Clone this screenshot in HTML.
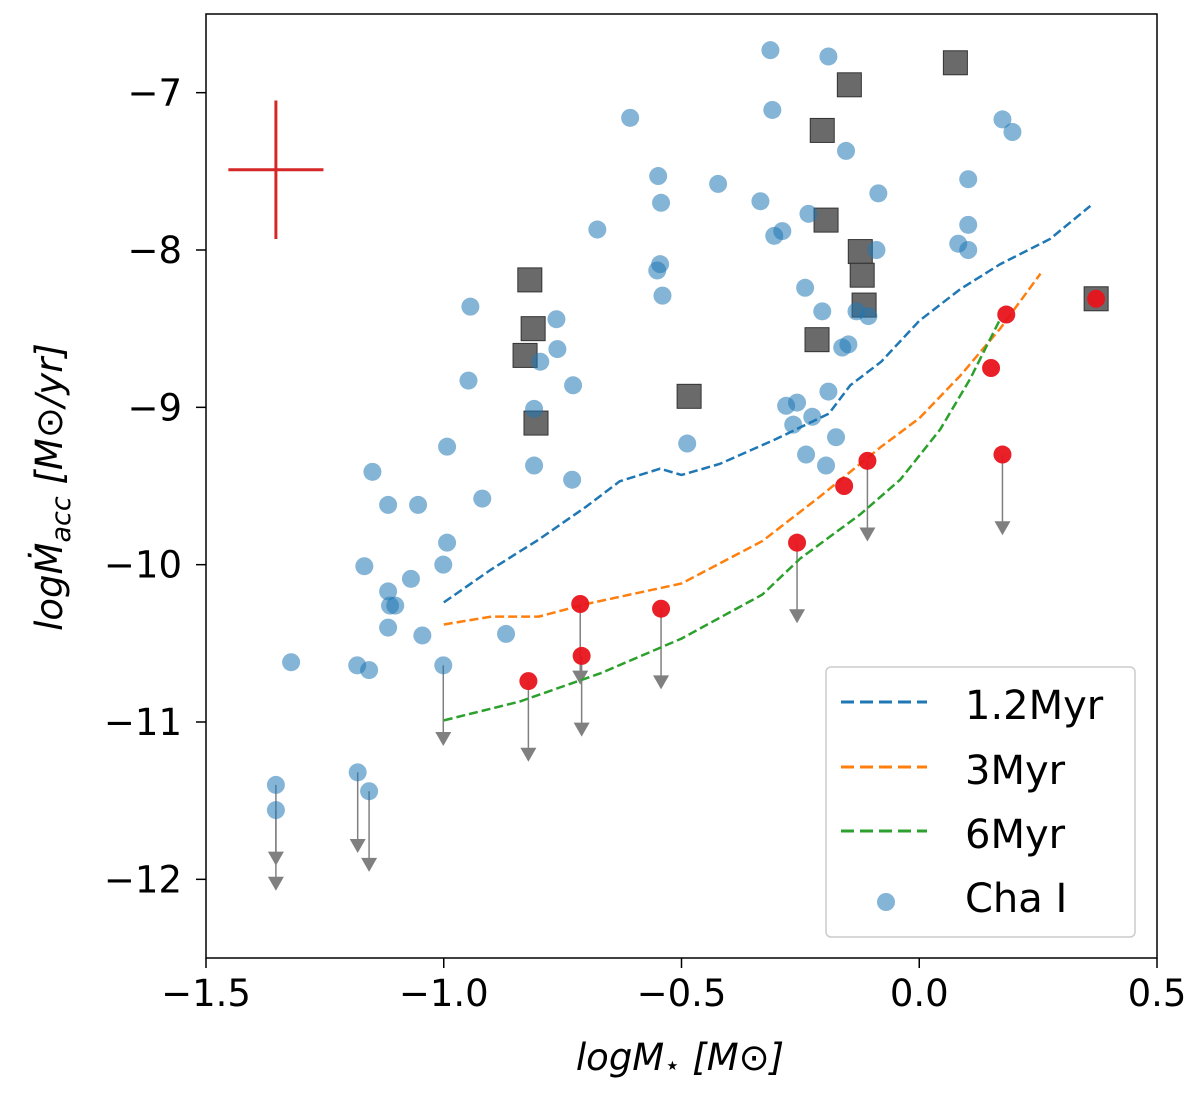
<!DOCTYPE html>
<html><head><meta charset="utf-8"><style>
body{margin:0;background:#fff}
svg{display:block;font-family:"DejaVu Sans","Liberation Sans",sans-serif}
</style></head><body>
<svg id="chart" width="1200" height="1103" viewBox="0 0 1200 1103" xmlns="http://www.w3.org/2000/svg">
<g id="layer"></g>
</svg>
<script>
const xTicks=[-1.5,-1.0,-0.5,0.0,0.5];
const xTickLabels=["\u22121.5","\u22121.0","\u22120.5","0.0","0.5"];
const yTicks=[-7,-8,-9,-10,-11,-12];
const yTickLabels=["\u22127","\u22128","\u22129","\u221210","\u221211","\u221212"];
const blueX=[-0.313,-0.191,-0.309,-0.608,0.175,0.196,-0.154,-0.423,-0.549,-0.543,-0.334,0.103,-0.086,-0.233,-0.305,-0.288,-0.677,-0.545,-0.551,-0.540,0.082,0.103,0.103,-0.090,-0.944,-0.240,-0.204,-0.132,-0.107,-0.149,-0.162,-0.191,-0.280,-0.257,-0.265,-0.238,-0.225,-0.196,-0.175,-0.763,-0.761,-0.797,-0.948,-0.810,-0.728,-0.730,-0.488,-0.810,-0.993,-0.919,-1.054,-1.150,-1.117,-0.993,-1.001,-1.069,-1.167,-1.117,-1.113,-1.102,-1.117,-1.045,-0.869,-1.321,-1.182,-1.157];
const blueY=[-6.73,-6.77,-7.11,-7.16,-7.17,-7.25,-7.37,-7.58,-7.53,-7.70,-7.69,-7.55,-7.64,-7.77,-7.91,-7.88,-7.87,-8.09,-8.13,-8.29,-7.96,-8.00,-7.84,-8.00,-8.36,-8.24,-8.39,-8.39,-8.42,-8.60,-8.62,-8.90,-8.99,-8.97,-9.11,-9.30,-9.06,-9.37,-9.19,-8.44,-8.63,-8.71,-8.83,-9.01,-8.86,-9.46,-9.23,-9.37,-9.25,-9.58,-9.62,-9.41,-9.62,-9.86,-10.00,-10.09,-10.01,-10.17,-10.26,-10.26,-10.40,-10.45,-10.44,-10.62,-10.64,-10.67];
const blueLimX=[-1.001,-1.353,-1.353,-1.181,-1.157];
const blueLimY=[-10.64,-11.40,-11.56,-11.32,-11.44];
const redX=[-0.822,-0.713,-0.710,-0.543,-0.257,-0.109,-0.158,0.151,0.183,0.175,0.372];
const redY=[-10.74,-10.25,-10.58,-10.28,-9.86,-9.34,-9.50,-8.75,-8.41,-9.30,-8.31];
const redLimit=[1,1,1,1,1,1,0,0,0,1,0];
const sqX=[0.076,-0.147,-0.204,-0.196,-0.124,-0.120,-0.116,-0.819,-0.812,-0.829,-0.806,-0.484,-0.215,0.372];
const sqY=[-6.81,-6.95,-7.24,-7.81,-8.01,-8.16,-8.35,-8.19,-8.50,-8.67,-9.10,-8.93,-8.57,-8.31];
const l12X=[-1.0,-0.9,-0.8,-0.7,-0.63,-0.545,-0.5,-0.42,-0.3,-0.19,-0.145,-0.08,0,0.086,0.17,0.275,0.36];
const l12Y=[-10.24,-10.03,-9.84,-9.63,-9.47,-9.39,-9.43,-9.36,-9.20,-9.04,-8.86,-8.71,-8.45,-8.25,-8.09,-7.93,-7.72];
const l3X=[-1.0,-0.9,-0.8,-0.7,-0.5,-0.33,-0.21,-0.08,0,0.086,0.17,0.255];
const l3Y=[-10.38,-10.33,-10.33,-10.25,-10.12,-9.85,-9.57,-9.25,-9.07,-8.80,-8.50,-8.15];
const l6X=[-1.0,-0.84,-0.67,-0.5,-0.33,-0.25,-0.124,-0.04,0.044,0.107,0.17];
const l6Y=[-10.99,-10.87,-10.69,-10.47,-10.19,-9.96,-9.68,-9.46,-9.14,-8.82,-8.44];
const errX=-1.353, errY=-7.49, errDX=0.1, errDY=0.44;
const limLen=0.5;

const L=206,R=1157,T=14,B=958;
const xs=v=>L+(v+1.5)/2*(R-L);
const ys=v=>T+(-6.5-v)/6*(B-T);
const NS="http://www.w3.org/2000/svg";
const g=document.getElementById('layer');
function mk(tag,at,parent){const e=document.createElementNS(NS,tag);for(const k in at)e.setAttribute(k,at[k]);(parent||g).appendChild(e);return e;}
function pathOf(X,Y){return X.map((x,i)=>(i?'L':'M')+xs(x).toFixed(1)+','+ys(Y[i]).toFixed(1)).join('');}
function arrow(x,y){
  const x0=xs(x),y0=ys(y),y1=ys(y-limLen);
  const a=mk('line',{x1:x0,y1:y0,x2:x0,y2:y1-4,stroke:'#808080','stroke-width':1.5});
  
  
  const h=mk('polygon',{points:`${x0-8},${y1-12} ${x0+8},${y1-12} ${x0},${y1+2}`,fill:'#808080'});
  
  
}
const fr=mk('rect',{x:L,y:T,width:R-L,height:B-T,fill:'none',stroke:'#000','stroke-width':1.5});


xTicks.forEach((t,i)=>{
  const x=xs(t);
  const tk=mk('line',{x1:x,y1:B,x2:x,y2:B+10,stroke:'#000','stroke-width':1.5});
  
  
  const tx=mk('text',{x:x,y:B+48,'text-anchor':'middle','font-size':37});
  tx.textContent=xTickLabels[i];
  
  
});
yTicks.forEach((t,i)=>{
  const y=ys(t);
  const tk=mk('line',{x1:L-10,y1:y,x2:L,y2:y,stroke:'#000','stroke-width':1.5});
  
  
  const tx=mk('text',{x:L-24,y:y+13,'text-anchor':'end','font-size':37});
  tx.textContent=yTickLabels[i];
  
  
});
const eh=mk('line',{x1:xs(errX-errDX),y1:ys(errY),x2:xs(errX+errDX),y2:ys(errY),stroke:'#d62728','stroke-width':3});


const ev=mk('line',{x1:xs(errX),y1:ys(errY+errDY),x2:xs(errX),y2:ys(errY-errDY),stroke:'#d62728','stroke-width':3});


blueLimX.forEach((x,i)=>arrow(x,blueLimY[i]));
redX.forEach((x,i)=>{if(redLimit[i])arrow(x,redY[i]);});
sqX.forEach((x,i)=>{
  const s=mk('rect',{x:xs(x)-12,y:ys(sqY[i])-12,width:24,height:24,fill:'#555','fill-opacity':0.88,stroke:'#333','stroke-width':1});
  
  
});
blueX.concat(blueLimX).forEach((x,i)=>{
  const y=i<blueX.length?blueY[i]:blueLimY[i-blueX.length];
  const c=mk('circle',{cx:xs(x),cy:ys(y),r:9,fill:'#1f77b4','fill-opacity':0.55});
  
  
});
[[l12X,l12Y,'#1f77b4','line-1-2myr'],[l3X,l3Y,'#ff7f0e','line-3myr'],[l6X,l6Y,'#2ca02c','line-6myr']].forEach(d=>{
  const p=mk('path',{d:pathOf(d[0],d[1]),fill:'none',stroke:d[2],'stroke-width':2.5,'stroke-dasharray':'9,4'});
  
  
});
redX.forEach((x,i)=>{
  const c=mk('circle',{cx:xs(x),cy:ys(redY[i]),r:9,fill:'#e8141b','fill-opacity':0.95});
  
  
});
const lg=mk('g',{});


mk('rect',{x:826,y:667,width:309,height:270,rx:5,fill:'#fff','fill-opacity':0.85,stroke:'#ccc','stroke-width':1.5},lg);
const legNames=['1.2Myr','3Myr','6Myr'];
const legCols=['#1f77b4','#ff7f0e','#2ca02c'];
const legY=[702,767,831];
legNames.forEach((n,i)=>{
  const ln=mk('line',{x1:841,y1:legY[i],x2:927,y2:legY[i],stroke:legCols[i],'stroke-width':3,'stroke-dasharray':'13,6'},lg);
  
  
  const t=mk('text',{x:965,y:legY[i]+17,'font-size':40},lg);
  t.textContent=n;
  
  
});
const lc=mk('circle',{cx:886,cy:902,r:9,fill:'#1f77b4','fill-opacity':0.55},lg);


const lt=mk('text',{x:965,y:912,'font-size':40},lg);
lt.textContent='Cha I';


const xl=mk('text',{x:680,y:1070,'text-anchor':'middle','font-size':37,'font-style':'italic'});
xl.innerHTML='logM<tspan font-size="26" font-style="normal" dy="4">\u22c6</tspan><tspan dy="-4">  [M\u2299]</tspan>';


const yl=mk('text',{x:0,y:0,'text-anchor':'middle','font-size':37,'font-style':'italic',transform:'translate(62,487) rotate(-90)'});
yl.innerHTML='log\u1E40<tspan font-size="27" dy="8">acc</tspan><tspan dy="-8">  [M\u2299/yr]</tspan>';


</script>
</body></html>
